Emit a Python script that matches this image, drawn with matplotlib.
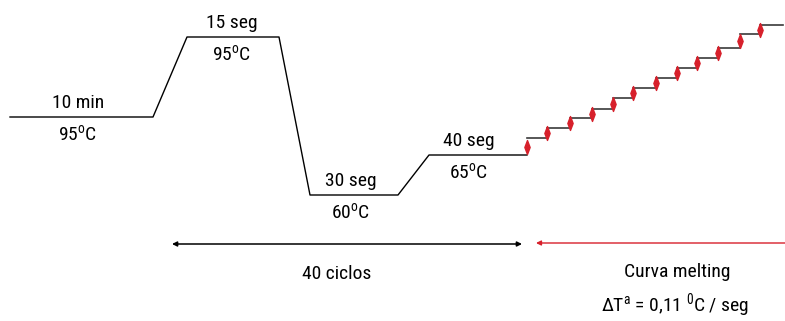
import matplotlib
matplotlib.use('Agg')
import matplotlib.pyplot as plt
from matplotlib import font_manager
from matplotlib.path import Path

# buscar una fuente estrecha, si no hay usar Liberation Sans
installed = {f.name for f in font_manager.fontManager.ttflist}
font = 'DejaVu Sans'
for name in ['Liberation Sans Narrow', 'DejaVu Sans Condensed', 'Roboto Condensed', 'Liberation Sans']:
    if name in installed:
        font = name
        break
narrow = font != 'Liberation Sans' and font != 'DejaVu Sans'
plt.rcParams['font.family'] = [font, 'DejaVu Sans']
plt.rcParams['mathtext.fontset'] = 'custom'
plt.rcParams['mathtext.rm'] = font
fs = 14 if narrow else 12.5

# perfil de la PCR (x = tiempo esquemático, y = nivel en pixeles, hacia abajo)
profile_x = [10, 153, 187, 279, 310, 398, 429, 527]
profile_y = [117, 117, 37, 37, 195, 195, 155, 155]

# etapas: texto de duración, temperatura y posición
stage_time = ['10 min', '15 seg', '30 seg', '40 seg']
stage_temp = ['95$^\\mathrm{o}$C', '95$^\\mathrm{o}$C', '60$^\\mathrm{o}$C', '65$^\\mathrm{o}$C']
stage_x = [78, 232, 351, 469]
stage_y = [117, 37, 195, 155]

# curva melting: posición de cada incremento y nivel alcanzado
melt_x = [527, 547, 570, 592, 613, 633, 656, 677, 697, 718, 740, 760]
melt_level = [138, 128, 118, 109, 98, 88, 78, 68, 58, 48, 34, 25]
melt_end = 783

red = '#d7202b'

fig = plt.figure(figsize=(7.85, 3.21), dpi=100)
ax = fig.add_axes([0, 0, 1, 1])
ax.set_xlim(0, 785)
ax.set_ylim(321, 0)
ax.axis('off')

ax.plot(profile_x, profile_y, color='black', lw=1.0)

for t, temp, x, y in zip(stage_time, stage_temp, stage_x, stage_y):
    ax.text(x, y - 5, t, ha='center', va='bottom', fontsize=fs)
    ax.text(x, y + 7, temp, ha='center', va='top', fontsize=fs)

# escalones
prev = profile_y[-1]
mids = []
for i, (x, lvl) in enumerate(zip(melt_x, melt_level)):
    x2 = melt_x[i + 1] if i + 1 < len(melt_x) else melt_end
    ax.plot([x, x2], [lvl, lvl], color='#3a3a3a', lw=1.2)
    mids.append((prev + lvl) / 2)
    prev = lvl

diamond = Path([(0, 1), (0.38, 0), (0, -1), (-0.38, 0), (0, 1)],
               [Path.MOVETO, Path.LINETO, Path.LINETO, Path.LINETO, Path.CLOSEPOLY])
ax.plot(melt_x, mids, ls='none', marker=diamond, ms=10, color=red, mec=red)

# flechas
ax.annotate('', xy=(172, 244), xytext=(522, 244),
            arrowprops=dict(arrowstyle='<|-|>', color='black', lw=1.1,
                            mutation_scale=7, shrinkA=0, shrinkB=0))
ax.annotate('', xy=(536, 243), xytext=(785, 243),
            arrowprops=dict(arrowstyle='-|>', color=red, lw=1.0,
                            mutation_scale=7, shrinkA=0, shrinkB=0))

ax.text(337, 274, '40 ciclos', ha='center', va='center', fontsize=fs)
ax.text(677, 272, 'Curva melting', ha='center', va='center', fontsize=fs)
ax.text(675, 306, '$\\Delta$T$^\\mathrm{a}$ = 0,11 $^\\mathrm{0}$C / seg',
        ha='center', va='center', fontsize=fs)

fig.savefig('out.png', dpi=100)
